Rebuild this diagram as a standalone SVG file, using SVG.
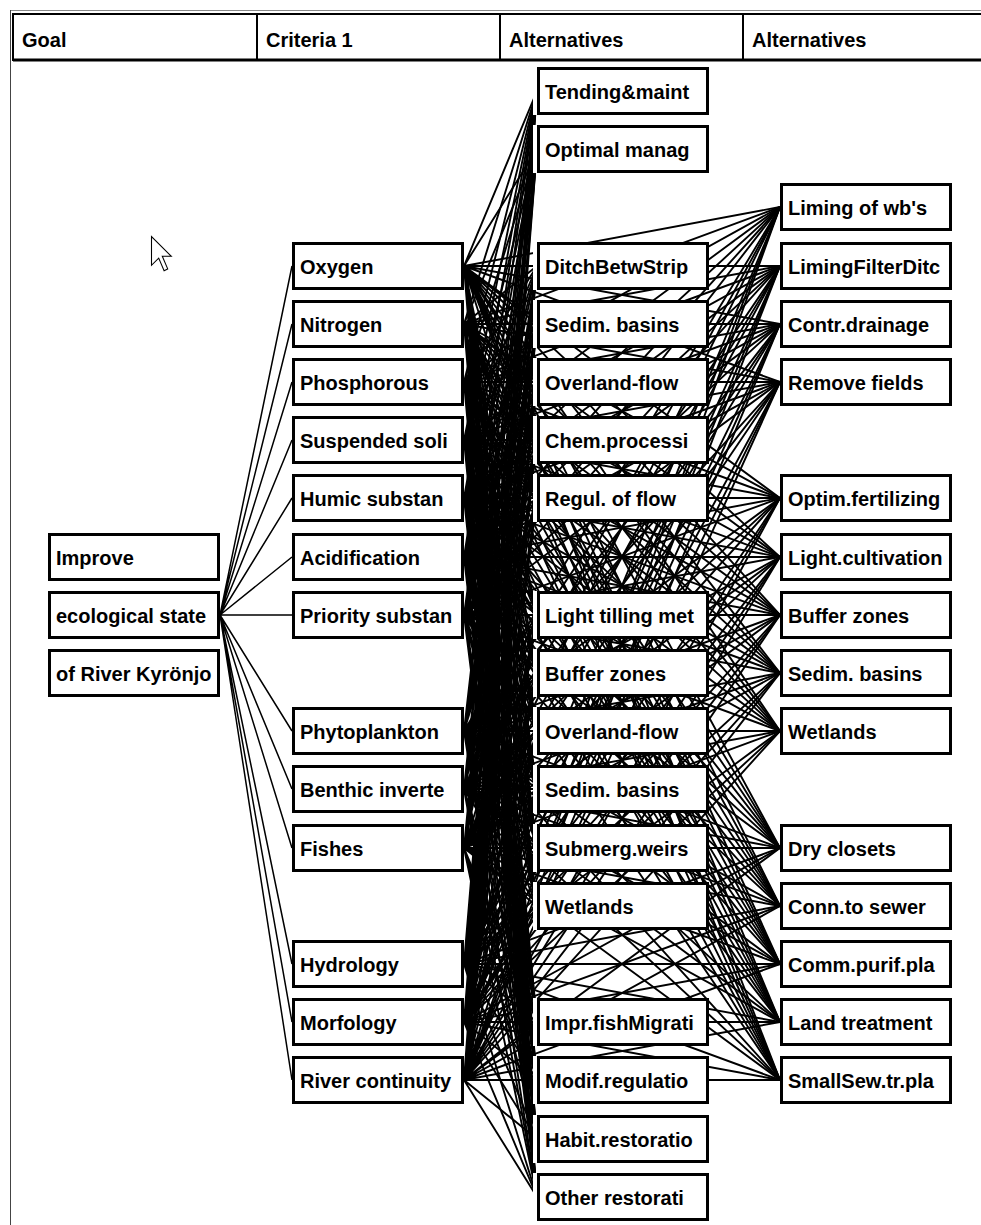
<svg xmlns="http://www.w3.org/2000/svg" width="981" height="1225" viewBox="0 0 981 1225">
<style>
.ln{stroke:#000;stroke-width:1.9;fill:none}
.gl{stroke:#000;stroke-width:1.5;fill:none}
.box{fill:#fff;stroke:#000;stroke-width:3}
.halo{fill:#fff}
.t{font-family:"Liberation Sans",Arial,sans-serif;font-weight:bold;font-size:20px;fill:#000}
.hd{fill:#fff;stroke:#000;stroke-width:2}
</style>
<rect x="0" y="0" width="981" height="1225" fill="#fff"/>
<g id="frame">
<line x1="10" y1="10.5" x2="981" y2="10.5" stroke="#888" stroke-width="1"/>
<line x1="10.5" y1="10" x2="10.5" y2="1225" stroke="#444" stroke-width="1"/>
<rect class="hd" x="13" y="14" width="990" height="46"/>
<line x1="13" y1="60" x2="981" y2="60" stroke="#000" stroke-width="3"/>
<line x1="257" y1="14" x2="257" y2="60" stroke="#000" stroke-width="2"/>
<line x1="500" y1="14" x2="500" y2="60" stroke="#000" stroke-width="2"/>
<line x1="743" y1="14" x2="743" y2="60" stroke="#000" stroke-width="2"/>
<text class="t" x="22" y="47">Goal</text>
<text class="t" x="266" y="47">Criteria 1</text>
<text class="t" x="509" y="47">Alternatives</text>
<text class="t" x="752" y="47">Alternatives</text>
</g>
<g id="connectors">
<path class="gl" d="M220 615L292 266M220 615L292 324M220 615L292 382M220 615L292 440M220 615L292 498M220 615L292 557M220 615L292 615M220 615L292 731M220 615L292 789M220 615L292 848M220 615L292 964M220 615L292 1022M220 615L292 1080"/>
<path class="ln" d="M464 266L537 91M464 266L537 149M464 266L537 266M464 266L537 324M464 266L537 382M464 266L537 440M464 266L537 498M464 266L537 615M464 266L537 673M464 266L537 731M464 266L537 789M464 266L537 848M464 266L537 906M464 266L537 1022M464 266L537 1080M464 266L537 1139M464 266L537 1197M464 266L780 207M464 266L780 266M464 266L780 324M464 266L780 382M464 266L780 498M464 266L780 557M464 266L780 615M464 266L780 673M464 266L780 731M464 266L780 848M464 266L780 906M464 266L780 964M464 266L780 1022M464 266L780 1080"/>
<path class="ln" d="M464 324L537 91M464 324L537 149M464 324L537 266M464 324L537 324M464 324L537 382M464 324L537 440M464 324L537 498M464 324L537 615M464 324L537 673M464 324L537 731M464 324L537 789M464 324L537 848M464 324L537 906M464 324L537 1022M464 324L537 1080M464 324L537 1139M464 324L537 1197M464 324L780 207M464 324L780 266M464 324L780 324M464 324L780 382M464 324L780 498M464 324L780 557M464 324L780 615M464 324L780 673M464 324L780 731M464 324L780 848M464 324L780 906M464 324L780 964M464 324L780 1022M464 324L780 1080"/>
<path class="ln" d="M464 382L537 91M464 382L537 149M464 382L537 266M464 382L537 324M464 382L537 382M464 382L537 440M464 382L537 498M464 382L537 615M464 382L537 673M464 382L537 731M464 382L537 789M464 382L537 848M464 382L537 906M464 382L537 1022M464 382L537 1080M464 382L537 1139M464 382L537 1197M464 382L780 207M464 382L780 266M464 382L780 324M464 382L780 382M464 382L780 498M464 382L780 557M464 382L780 615M464 382L780 673M464 382L780 731M464 382L780 848M464 382L780 906M464 382L780 964M464 382L780 1022M464 382L780 1080"/>
<path class="ln" d="M464 440L537 91M464 440L537 149M464 440L537 266M464 440L537 324M464 440L537 382M464 440L537 440M464 440L537 498M464 440L537 615M464 440L537 673M464 440L537 731M464 440L537 789M464 440L537 848M464 440L537 906M464 440L537 1022M464 440L537 1080M464 440L537 1139M464 440L537 1197M464 440L780 207M464 440L780 266M464 440L780 324M464 440L780 382M464 440L780 498M464 440L780 557M464 440L780 615M464 440L780 673M464 440L780 731M464 440L780 848M464 440L780 906M464 440L780 964M464 440L780 1022M464 440L780 1080"/>
<path class="ln" d="M464 498L537 91M464 498L537 149M464 498L537 266M464 498L537 324M464 498L537 382M464 498L537 440M464 498L537 498M464 498L537 615M464 498L537 673M464 498L537 731M464 498L537 789M464 498L537 848M464 498L537 906M464 498L537 1022M464 498L537 1080M464 498L537 1139M464 498L537 1197M464 498L780 207M464 498L780 266M464 498L780 324M464 498L780 382M464 498L780 498M464 498L780 557M464 498L780 615M464 498L780 673M464 498L780 731M464 498L780 848M464 498L780 906M464 498L780 964M464 498L780 1022M464 498L780 1080"/>
<path class="ln" d="M464 557L537 91M464 557L537 149M464 557L537 266M464 557L537 324M464 557L537 382M464 557L537 440M464 557L537 498M464 557L537 615M464 557L537 673M464 557L537 731M464 557L537 789M464 557L537 848M464 557L537 906M464 557L537 1022M464 557L537 1080M464 557L537 1139M464 557L537 1197M464 557L780 207M464 557L780 266M464 557L780 324M464 557L780 382M464 557L780 498M464 557L780 557M464 557L780 615M464 557L780 673M464 557L780 731M464 557L780 848M464 557L780 906M464 557L780 964M464 557L780 1022M464 557L780 1080"/>
<path class="ln" d="M464 615L537 91M464 615L537 149M464 615L537 266M464 615L537 324M464 615L537 382M464 615L537 440M464 615L537 498M464 615L537 615M464 615L537 673M464 615L537 731M464 615L537 789M464 615L537 848M464 615L537 906M464 615L537 1022M464 615L537 1080M464 615L537 1139M464 615L537 1197M464 615L780 207M464 615L780 266M464 615L780 324M464 615L780 382M464 615L780 498M464 615L780 557M464 615L780 615M464 615L780 673M464 615L780 731M464 615L780 848M464 615L780 906M464 615L780 964M464 615L780 1022M464 615L780 1080"/>
<path class="ln" d="M464 731L537 91M464 731L537 149M464 731L537 266M464 731L537 324M464 731L537 382M464 731L537 440M464 731L537 498M464 731L537 615M464 731L537 673M464 731L537 731M464 731L537 789M464 731L537 848M464 731L537 906M464 731L537 1022M464 731L537 1080M464 731L537 1139M464 731L537 1197M464 731L780 207M464 731L780 266M464 731L780 324M464 731L780 382M464 731L780 498M464 731L780 557M464 731L780 615M464 731L780 673M464 731L780 731M464 731L780 848M464 731L780 906M464 731L780 964M464 731L780 1022M464 731L780 1080"/>
<path class="ln" d="M464 789L537 91M464 789L537 149M464 789L537 266M464 789L537 324M464 789L537 382M464 789L537 440M464 789L537 498M464 789L537 615M464 789L537 673M464 789L537 731M464 789L537 789M464 789L537 848M464 789L537 906M464 789L537 1022M464 789L537 1080M464 789L537 1139M464 789L537 1197M464 789L780 207M464 789L780 266M464 789L780 324M464 789L780 382M464 789L780 498M464 789L780 557M464 789L780 615M464 789L780 673M464 789L780 731M464 789L780 848M464 789L780 906M464 789L780 964M464 789L780 1022M464 789L780 1080"/>
<path class="ln" d="M464 848L537 91M464 848L537 149M464 848L537 266M464 848L537 324M464 848L537 382M464 848L537 440M464 848L537 498M464 848L537 615M464 848L537 673M464 848L537 731M464 848L537 789M464 848L537 848M464 848L537 906M464 848L537 1022M464 848L537 1080M464 848L537 1139M464 848L537 1197M464 848L780 207M464 848L780 266M464 848L780 324M464 848L780 382M464 848L780 498M464 848L780 557M464 848L780 615M464 848L780 673M464 848L780 731M464 848L780 848M464 848L780 906M464 848L780 964M464 848L780 1022M464 848L780 1080"/>
<path class="ln" d="M464 964L537 91M464 964L537 149M464 964L537 266M464 964L537 324M464 964L537 382M464 964L537 440M464 964L537 498M464 964L537 615M464 964L537 673M464 964L537 731M464 964L537 789M464 964L537 848M464 964L537 906M464 964L537 1022M464 964L537 1080M464 964L537 1139M464 964L537 1197M464 964L780 207M464 964L780 266M464 964L780 324M464 964L780 382M464 964L780 498M464 964L780 557M464 964L780 615M464 964L780 673M464 964L780 731M464 964L780 848M464 964L780 906M464 964L780 964M464 964L780 1022M464 964L780 1080"/>
<path class="ln" d="M464 1022L537 91M464 1022L537 149M464 1022L537 266M464 1022L537 324M464 1022L537 382M464 1022L537 440M464 1022L537 498M464 1022L537 615M464 1022L537 673M464 1022L537 731M464 1022L537 789M464 1022L537 848M464 1022L537 906M464 1022L537 1022M464 1022L537 1080M464 1022L537 1139M464 1022L537 1197M464 1022L780 207M464 1022L780 266M464 1022L780 324M464 1022L780 382M464 1022L780 498M464 1022L780 557M464 1022L780 615M464 1022L780 673M464 1022L780 731M464 1022L780 848M464 1022L780 906M464 1022L780 964M464 1022L780 1022M464 1022L780 1080"/>
<path class="ln" d="M464 1080L537 91M464 1080L537 149M464 1080L537 266M464 1080L537 324M464 1080L537 382M464 1080L537 440M464 1080L537 498M464 1080L537 615M464 1080L537 673M464 1080L537 731M464 1080L537 789M464 1080L537 848M464 1080L537 906M464 1080L537 1022M464 1080L537 1080M464 1080L537 1139M464 1080L537 1197M464 1080L780 207M464 1080L780 266M464 1080L780 324M464 1080L780 382M464 1080L780 498M464 1080L780 557M464 1080L780 615M464 1080L780 673M464 1080L780 731M464 1080L780 848M464 1080L780 906M464 1080L780 964M464 1080L780 1022M464 1080L780 1080"/>
</g>
<g id="cursor">
<path d="M0 0V16L4 12L7 19L9 18L6 11H11Z" transform="translate(151.5 236.5) scale(1.8)" fill="#fff" stroke="#000" stroke-width="0.6" stroke-linejoin="miter"/>
</g>
<g id="goal">
<g id="g-improve"><rect class="box" x="49.5" y="534.5" width="169" height="45"/><text class="t" x="56" y="565">Improve</text></g>
<g id="g-eco"><rect class="box" x="49.5" y="592.5" width="169" height="45"/><text class="t" x="56" y="623">ecological state</text></g>
<g id="g-river"><rect class="box" x="49.5" y="650.5" width="169" height="45"/><text class="t" x="56" y="681">of River Kyrönjo</text></g>
</g>
<g id="criteria">
<g id="c-oxygen"><rect class="box" x="293.5" y="243.5" width="169" height="45"/><text class="t" x="300" y="274">Oxygen</text></g>
<g id="c-nitrogen"><rect class="box" x="293.5" y="301.5" width="169" height="45"/><text class="t" x="300" y="332">Nitrogen</text></g>
<g id="c-phosphorous"><rect class="box" x="293.5" y="359.5" width="169" height="45"/><text class="t" x="300" y="390">Phosphorous</text></g>
<g id="c-suspended"><rect class="box" x="293.5" y="417.5" width="169" height="45"/><text class="t" x="300" y="448">Suspended soli</text></g>
<g id="c-humic"><rect class="box" x="293.5" y="475.5" width="169" height="45"/><text class="t" x="300" y="506">Humic substan</text></g>
<g id="c-acid"><rect class="box" x="293.5" y="534.5" width="169" height="45"/><text class="t" x="300" y="565">Acidification</text></g>
<g id="c-priority"><rect class="box" x="293.5" y="592.5" width="169" height="45"/><text class="t" x="300" y="623">Priority substan</text></g>
<g id="c-phyto"><rect class="box" x="293.5" y="708.5" width="169" height="45"/><text class="t" x="300" y="739">Phytoplankton</text></g>
<g id="c-benthic"><rect class="box" x="293.5" y="766.5" width="169" height="45"/><text class="t" x="300" y="797">Benthic inverte</text></g>
<g id="c-fishes"><rect class="box" x="293.5" y="825.5" width="169" height="45"/><text class="t" x="300" y="856">Fishes</text></g>
<g id="c-hydro"><rect class="box" x="293.5" y="941.5" width="169" height="45"/><text class="t" x="300" y="972">Hydrology</text></g>
<g id="c-morf"><rect class="box" x="293.5" y="999.5" width="169" height="45"/><text class="t" x="300" y="1030">Morfology</text></g>
<g id="c-contin"><rect class="box" x="293.5" y="1057.5" width="169" height="45"/><text class="t" x="300" y="1088">River continuity</text></g>
</g>
<g id="alternatives1">
<g id="a-tending"><rect class="halo" x="533" y="67" width="176" height="48"/><rect class="box" x="538.5" y="68.5" width="169" height="45"/><text class="t" x="545" y="99">Tending&amp;maint</text></g>
<g id="a-optimal"><rect class="halo" x="533" y="125" width="176" height="48"/><rect class="box" x="538.5" y="126.5" width="169" height="45"/><text class="t" x="545" y="157">Optimal manag</text></g>
<g id="a-ditch"><rect class="halo" x="533" y="242" width="176" height="48"/><rect class="box" x="538.5" y="243.5" width="169" height="45"/><text class="t" x="545" y="274">DitchBetwStrip</text></g>
<g id="a-sedim1"><rect class="halo" x="533" y="300" width="176" height="48"/><rect class="box" x="538.5" y="301.5" width="169" height="45"/><text class="t" x="545" y="332">Sedim. basins</text></g>
<g id="a-overland1"><rect class="halo" x="533" y="358" width="176" height="48"/><rect class="box" x="538.5" y="359.5" width="169" height="45"/><text class="t" x="545" y="390">Overland-flow</text></g>
<g id="a-chem"><rect class="halo" x="533" y="416" width="176" height="48"/><rect class="box" x="538.5" y="417.5" width="169" height="45"/><text class="t" x="545" y="448">Chem.processi</text></g>
<g id="a-regul"><rect class="halo" x="533" y="474" width="176" height="48"/><rect class="box" x="538.5" y="475.5" width="169" height="45"/><text class="t" x="545" y="506">Regul. of flow</text></g>
<g id="a-light"><rect class="halo" x="533" y="591" width="176" height="48"/><rect class="box" x="538.5" y="592.5" width="169" height="45"/><text class="t" x="545" y="623">Light tilling met</text></g>
<g id="a-buffer1"><rect class="halo" x="533" y="649" width="176" height="48"/><rect class="box" x="538.5" y="650.5" width="169" height="45"/><text class="t" x="545" y="681">Buffer zones</text></g>
<g id="a-overland2"><rect class="halo" x="533" y="707" width="176" height="48"/><rect class="box" x="538.5" y="708.5" width="169" height="45"/><text class="t" x="545" y="739">Overland-flow</text></g>
<g id="a-sedim2"><rect class="halo" x="533" y="765" width="176" height="48"/><rect class="box" x="538.5" y="766.5" width="169" height="45"/><text class="t" x="545" y="797">Sedim. basins</text></g>
<g id="a-submerg"><rect class="halo" x="533" y="824" width="176" height="48"/><rect class="box" x="538.5" y="825.5" width="169" height="45"/><text class="t" x="545" y="856">Submerg.weirs</text></g>
<g id="a-wetlands1"><rect class="halo" x="533" y="882" width="176" height="48"/><rect class="box" x="538.5" y="883.5" width="169" height="45"/><text class="t" x="545" y="914">Wetlands</text></g>
<g id="a-fish"><rect class="halo" x="533" y="998" width="176" height="48"/><rect class="box" x="538.5" y="999.5" width="169" height="45"/><text class="t" x="545" y="1030">Impr.fishMigrati</text></g>
<g id="a-modif"><rect class="halo" x="533" y="1056" width="176" height="48"/><rect class="box" x="538.5" y="1057.5" width="169" height="45"/><text class="t" x="545" y="1088">Modif.regulatio</text></g>
<g id="a-habit"><rect class="halo" x="533" y="1115" width="176" height="48"/><rect class="box" x="538.5" y="1116.5" width="169" height="45"/><text class="t" x="545" y="1147">Habit.restoratio</text></g>
<g id="a-other"><rect class="halo" x="533" y="1173" width="176" height="48"/><rect class="box" x="538.5" y="1174.5" width="169" height="45"/><text class="t" x="545" y="1205">Other restorati</text></g>
</g>
<g id="alternatives2">
<g id="b-liming"><rect class="box" x="781.5" y="184.5" width="169" height="45"/><text class="t" x="788" y="215">Liming of wb's</text></g>
<g id="b-limingfilter"><rect class="box" x="781.5" y="243.5" width="169" height="45"/><text class="t" x="788" y="274">LimingFilterDitc</text></g>
<g id="b-contr"><rect class="box" x="781.5" y="301.5" width="169" height="45"/><text class="t" x="788" y="332">Contr.drainage</text></g>
<g id="b-remove"><rect class="box" x="781.5" y="359.5" width="169" height="45"/><text class="t" x="788" y="390">Remove fields</text></g>
<g id="b-optim"><rect class="box" x="781.5" y="475.5" width="169" height="45"/><text class="t" x="788" y="506">Optim.fertilizing</text></g>
<g id="b-lightcult"><rect class="box" x="781.5" y="534.5" width="169" height="45"/><text class="t" x="788" y="565">Light.cultivation</text></g>
<g id="b-buffer2"><rect class="box" x="781.5" y="592.5" width="169" height="45"/><text class="t" x="788" y="623">Buffer zones</text></g>
<g id="b-sedim3"><rect class="box" x="781.5" y="650.5" width="169" height="45"/><text class="t" x="788" y="681">Sedim. basins</text></g>
<g id="b-wetlands2"><rect class="box" x="781.5" y="708.5" width="169" height="45"/><text class="t" x="788" y="739">Wetlands</text></g>
<g id="b-dry"><rect class="box" x="781.5" y="825.5" width="169" height="45"/><text class="t" x="788" y="856">Dry closets</text></g>
<g id="b-conn"><rect class="box" x="781.5" y="883.5" width="169" height="45"/><text class="t" x="788" y="914">Conn.to sewer</text></g>
<g id="b-comm"><rect class="box" x="781.5" y="941.5" width="169" height="45"/><text class="t" x="788" y="972">Comm.purif.pla</text></g>
<g id="b-land"><rect class="box" x="781.5" y="999.5" width="169" height="45"/><text class="t" x="788" y="1030">Land treatment</text></g>
<g id="b-small"><rect class="box" x="781.5" y="1057.5" width="169" height="45"/><text class="t" x="788" y="1088">SmallSew.tr.pla</text></g>
</g>
</svg>
